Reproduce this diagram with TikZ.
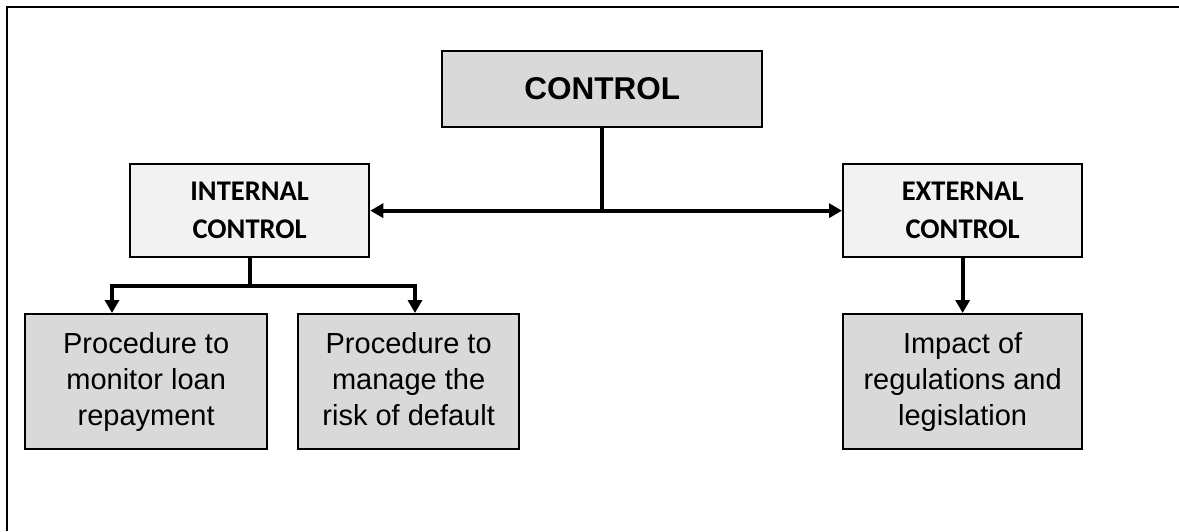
\documentclass[tikz,border=0pt]{standalone}
\usepackage{fontspec}
\setmainfont{Liberation Sans}
\newfontfamily\calibfont{Carlito}
\usetikzlibrary{arrows.meta}
\definecolor{boxdark}{HTML}{D9D9D9}
\definecolor{boxlight}{HTML}{F2F2F2}
\begin{document}
\begin{tikzpicture}[x=1pt,y=-1pt,
  box/.style={draw=black, line width=2.3pt, inner sep=0pt, anchor=north west, align=center},
  topbox/.style={box, fill=boxdark, font=\fontsize{31.5}{36}\selectfont\bfseries},
  midbox/.style={box, fill=boxlight, font=\calibfont\fontsize{28.5}{38}\selectfont\bfseries},
  leafbox/.style={box, fill=boxdark, font=\fontsize{29}{36}\selectfont},
  conn/.style={line width=4pt},
  tip/.style={-{Triangle[width=14pt,length=13pt]}},
  twotips/.style={{Triangle[width=14pt,length=13pt]}-{Triangle[width=14pt,length=13pt]}}]
\useasboundingbox (0,0) rectangle (1179,531);
% open frame: left and top edges only
\draw[line width=2.6pt] (7,531) -- (7,7) -- (1179,7);

% boxes
\node[topbox, minimum width=320pt, minimum height=76pt] (ctrl) at (441,50) {CONTROL};
\node[midbox, minimum width=239pt, minimum height=93pt] (int) at (129,163) {INTERNAL\\CONTROL};
\node[midbox, minimum width=239pt, minimum height=93pt] (ext) at (842,163) {EXTERNAL\\CONTROL};
\node[leafbox, minimum width=242pt, minimum height=135pt] (leafa) at (24,313) {Procedure to\\monitor loan\\repayment};
\node[leafbox, minimum width=221pt, minimum height=135pt] (leafb) at (297,313) {Procedure to\\manage the\\risk of default\vphantom{p}};
\node[leafbox, minimum width=239pt, minimum height=135pt] (leafc) at (842,313) {Impact of\\regulations and\\legislation};

% connectors
\draw[conn, twotips] (int.east) -- (ext.west);
\draw[conn] (ctrl.south) -- (ctrl.south |- int.east);
\coordinate (splita) at (112,286);
\coordinate (splitb) at (415,286);
\draw[conn] (int.south) -- (int.south |- splita) coordinate (isplit);
\draw[conn, tip] (isplit) -| (splita |- leafa.north);
\draw[conn, tip] (isplit) -| (splitb |- leafb.north);
\draw[conn, tip] (ext.south) -- (leafc.north);
\end{tikzpicture}
\end{document}
